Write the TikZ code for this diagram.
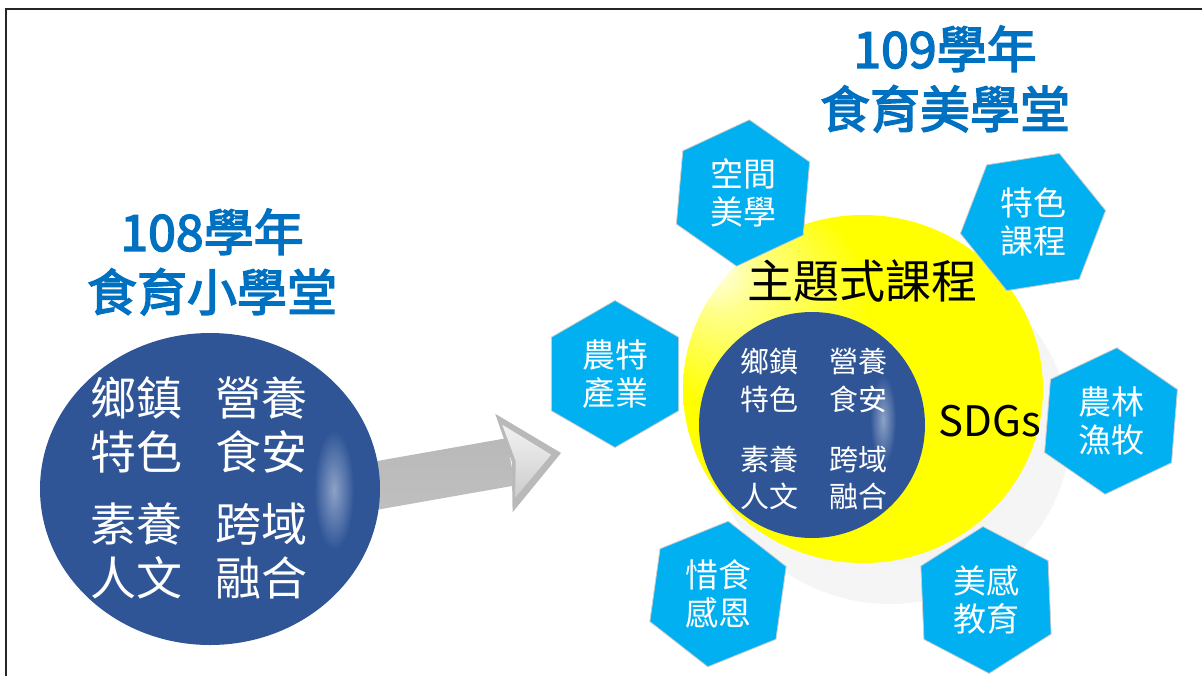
\documentclass[tikz,border=0pt]{standalone}
\usepackage{fontspec}
\setmainfont{Noto Sans CJK TC}
\newfontfamily\titlefont[FakeBold=3]{Noto Sans CJK TC}
\usetikzlibrary{shapes.geometric}

\definecolor{titleblue}{RGB}{0,112,192}
\definecolor{ballblue}{RGB}{47,85,151}
\definecolor{hexblue}{RGB}{0,176,240}
\definecolor{ballyellow}{RGB}{255,255,0}

\pgfdeclareradialshading{yellowball}{\pgfpoint{-22bp}{18bp}}{color(0bp)=(white); color(5bp)=(ballyellow!45!white); color(16bp)=(ballyellow); color(50bp)=(ballyellow)}
\pgfdeclareradialshading{ballshadow}{\pgfpoint{0bp}{0bp}}{color(0bp)=(gray!9); color(25bp)=(gray!8); color(50bp)=(white)}

\tikzset{
  hexa/.style={regular polygon, regular polygon sides=6, minimum size=147pt, inner sep=0pt,
    fill=hexblue, draw=gray!40, line width=0.8pt, text=white, align=center,
    font=\fontsize{33}{38}\selectfont},
  ballwhite/.style={text=white, align=center, font=\fontsize{46}{54}\selectfont},
  smallwhite/.style={text=white, align=center, font=\fontsize{29}{37.5}\selectfont},
  yeartitle/.style={text=titleblue, align=center, font=\titlefont\fontsize{50}{60}\selectfont}
}

\begin{document}
\begin{tikzpicture}[x=1pt, y=-1pt]
  %%%%% START %%%%%
  \useasboundingbox (0,0) rectangle (1202,675);

  % frame
  \draw[black!85, line width=2.5pt] (1210,9) -- (6,9) -- (6,690);

  % arrow
  \begin{scope}[shift={(368,487)}, rotate=10]
    \shade[top color=gray!55, middle color=gray!12, bottom color=gray!50]
      (0,-24) -- (145,-24) -- (145,24) -- (0,24) -- cycle;
    \fill[gray!55] (138,-50) -- (196,0) -- (138,50) -- (146,0) -- cycle;
    \shade[top color=gray!10, bottom color=gray!40] (143,-38) -- (186,0) -- (143,36) -- (150,0) -- cycle;
  \end{scope}

  % 108
  \fill[ballblue] (210,489) ellipse (170 and 156);
  \shade[inner color=white!45!ballblue, outer color=ballblue] (334,490) ellipse (20 and 60);
  \node[ballwhite] (xiangzhen) at (136,425) {鄉鎮\\特色};
  \node[ballwhite] (yingyang) at (261,425) {營養\\食安};
  \node[ballwhite] (suyang) at (136,551) {素養\\人文};
  \node[ballwhite] (kuayu) at (261,551) {跨域\\融合};
  \node[yeartitle] (title108) at (212,262) {108學年\\食育小學堂};

  % 109
  \node[yeartitle] (title109) at (945,79) {109學年\\食育美學堂};
  \shade[shading=ballshadow] (890,432) ellipse (180 and 172);
  \shade[shading=yellowball] (863,389) ellipse (180 and 174);
  \fill[ballblue] (812,425) circle (113);
  \shade[inner color=white!45!ballblue, outer color=ballblue] (883,420) ellipse (13 and 45);
  \node[smallwhite] (xiangzhen2) at (769,380.5) {鄉鎮\\特色};
  \node[smallwhite] (yingyang2) at (858,380.5) {營養\\食安};
  \node[smallwhite] (suyang2) at (769,478) {素養\\人文};
  \node[smallwhite] (kuayu2) at (858,478) {跨域\\融合};
  \node[font=\fontsize{46}{50}\selectfont] (zhuti) at (862,281) {主題式課程};
  \node[font=\fontsize{42}{48}\selectfont] (sdgs) at (990,421) {SDGs};

  \node[hexa, shape border rotate=25] (kongjian) at (743,193) {空間\\美學};
  \node[hexa, shape border rotate=9] (tese) at (1033,222) {特色\\課程};
  \node[hexa, shape border rotate=30] (nongte) at (615,374) {農特\\產業};
  \node[hexa, shape border rotate=25.4] (nonglin) at (1111,421) {農林\\漁牧};
  \node[hexa, shape border rotate=22] (xishi) at (718,594) {惜食\\感恩};
  \node[hexa, shape border rotate=32.4] (meigan) at (986,600) {美感\\教育};
  %%%%% END %%%%%
\end{tikzpicture}
\end{document}
